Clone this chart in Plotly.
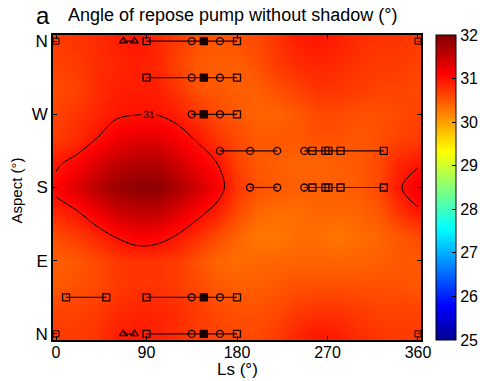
import plotly.graph_objects as go

# ---------------- data ----------------
ls_grid = [0, 20, 40, 60, 80, 100, 120, 140, 160, 180, 200, 220, 240, 260, 280, 300, 320, 340, 360]
aspect_grid = [0, 30, 60, 90, 120, 150, 180, 210, 240, 270, 300, 330, 360]

angle_z = [
    [30.70, 30.70, 30.75, 30.90, 30.95, 30.90, 30.80, 30.70, 30.65, 30.60, 30.60, 30.70, 30.85, 30.95, 30.90, 30.80, 30.75, 30.70, 30.70],
    [30.65, 30.65, 30.70, 30.80, 30.85, 30.85, 30.80, 30.70, 30.60, 30.55, 30.55, 30.60, 30.70, 30.75, 30.75, 30.70, 30.65, 30.65, 30.65],
    [30.50, 30.55, 30.60, 30.70, 30.75, 30.75, 30.70, 30.60, 30.50, 30.45, 30.45, 30.50, 30.55, 30.55, 30.55, 30.55, 30.55, 30.55, 30.50],
    [30.45, 30.50, 30.60, 30.72, 30.75, 30.75, 30.70, 30.55, 30.40, 30.35, 30.40, 30.40, 30.42, 30.42, 30.42, 30.42, 30.45, 30.50, 30.50],
    [30.60, 30.70, 30.85, 31.02, 31.15, 31.12, 30.98, 30.80, 30.60, 30.42, 30.28, 30.28, 30.35, 30.35, 30.28, 30.35, 30.40, 30.50, 30.60],
    [30.85, 30.97, 31.20, 31.45, 31.55, 31.55, 31.35, 31.10, 30.90, 30.60, 30.40, 30.35, 30.35, 30.40, 30.40, 30.42, 30.50, 30.75, 30.95],
    [31.10, 31.35, 31.60, 31.80, 31.90, 31.90, 31.70, 31.45, 31.15, 30.75, 30.55, 30.48, 30.45, 30.45, 30.45, 30.48, 30.60, 30.95, 31.20],
    [30.95, 31.10, 31.35, 31.55, 31.65, 31.65, 31.45, 31.20, 31.00, 30.65, 30.50, 30.45, 30.42, 30.42, 30.45, 30.50, 30.60, 30.85, 30.95],
    [30.70, 30.80, 31.00, 31.20, 31.30, 31.30, 31.15, 30.97, 30.75, 30.60, 30.50, 30.50, 30.50, 30.55, 30.55, 30.50, 30.55, 30.65, 30.70],
    [30.65, 30.75, 30.85, 30.95, 30.99, 30.99, 30.90, 30.75, 30.60, 30.50, 30.42, 30.42, 30.50, 30.60, 30.60, 30.55, 30.55, 30.60, 30.65],
    [30.60, 30.65, 30.80, 30.90, 30.92, 30.90, 30.75, 30.55, 30.50, 30.45, 30.45, 30.55, 30.65, 30.75, 30.75, 30.70, 30.65, 30.65, 30.60],
    [30.65, 30.70, 30.80, 30.85, 30.90, 30.85, 30.65, 30.50, 30.45, 30.45, 30.55, 30.70, 30.80, 30.85, 30.80, 30.75, 30.70, 30.70, 30.65],
    [30.70, 30.75, 30.80, 30.90, 30.95, 30.85, 30.70, 30.55, 30.50, 30.55, 30.60, 30.75, 30.90, 30.95, 30.90, 30.80, 30.75, 30.75, 30.70],
]

x_ticks = [0, 90, 180, 270, 360]
y_ticks = [0, 90, 180, 270, 360]
y_labels = ["N", "E", "S", "W", "N"]
cbar_ticks = [25, 26, 27, 28, 29, 30, 31, 32]

# observation tracks: (aspect, Ls list, symbol list)
tri_ls = [67, 78]
tri_aspects = [0, 360]

track_a_ls = [90, 135, 147, 163, 180]
track_a_sym = ["square-open", "circle-open", "square", "circle-open", "square-open"]
track_a_aspects = [0, 45, 315, 360]

track_w_ls = [135, 147, 163, 180]
track_w_sym = ["circle-open", "square", "circle-open", "square-open"]
track_w_aspect = 270

track_sw_ls = [163, 193, 220]
track_s_ls = [193, 220]
track_b_ls = [247, 255, 268, 271, 283, 326]
track_b_sym = ["circle-open", "square-open", "square-open", "square-open", "square-open", "square-open"]
track_b_aspects = [180, 225]

track_ne_ls = [10, 50]
track_ne_aspect = 45

corner_ls = [0, 360, 0, 360]
corner_aspect = [0, 0, 360, 360]

jet = [[0.0, "rgb(0,0,143)"], [0.111, "rgb(0,0,255)"], [0.365, "rgb(0,255,255)"],
       [0.619, "rgb(255,255,0)"], [0.873, "rgb(255,0,0)"], [1.0, "rgb(128,0,0)"]]

FONT = "Liberation Sans, Arial, Helvetica, sans-serif"
LINE = "rgb(25,0,0)"

fig = go.Figure()
fig.add_trace(go.Heatmap(
    x=ls_grid, y=aspect_grid, z=angle_z, zmin=25, zmax=32, colorscale=jet,
    zsmooth="best",
    colorbar=dict(
        x=1.0408, xanchor="left", xpad=0, y=0.5, yanchor="middle", ypad=0,
        len=1, lenmode="fraction", thickness=20, thicknessmode="pixels",
        outlinecolor="black", outlinewidth=1,
        tickvals=cbar_ticks, ticks="inside", ticklen=4, tickcolor="black",
        tickfont=dict(size=16, color="black", family=FONT),
    ),
))
fig.add_trace(go.Contour(
    x=ls_grid, y=aspect_grid, z=angle_z, showscale=False,
    contours=dict(start=31, end=31, size=1, coloring="none", showlabels=True,
                  labelfont=dict(size=10, color="black", family=FONT)),
    line=dict(color="black", width=1, smoothing=1.0),
    hoverinfo="skip",
))

mk = dict(color=LINE, size=7, line=dict(color=LINE, width=1.3))

def add_track(ls, asp, sym):
    fig.add_trace(go.Scatter(
        x=ls, y=[asp] * len(ls), mode="lines+markers",
        line=dict(color=LINE, width=1.2),
        marker=dict(symbol=sym, **mk), showlegend=False, cliponaxis=False,
    ))

for a in tri_aspects:
    add_track(tri_ls, a, "triangle-up-open")
for a in track_a_aspects:
    add_track(track_a_ls, a, track_a_sym)
add_track(track_w_ls, track_w_aspect, track_w_sym)
add_track(track_sw_ls, 225, "circle-open")
add_track(track_s_ls, 180, "circle-open")
for a in track_b_aspects:
    add_track(track_b_ls, a, track_b_sym)
add_track(track_ne_ls, track_ne_aspect, "square-open")

fig.add_trace(go.Scatter(
    x=corner_ls, y=corner_aspect, mode="markers",
    marker=dict(symbol="square-open", size=6, color=LINE), showlegend=False,
    cliponaxis=True,
))

fig.update_layout(
    width=480, height=381,
    margin=dict(l=53, r=59, t=35, b=41, autoexpand=False),
    paper_bgcolor="white", plot_bgcolor="white",
    font=dict(family=FONT, color="black"),
    showlegend=False,
    annotations=[
        dict(text="a", xref="paper", yref="paper", x=-0.050, y=1.015,
             xanchor="left", yanchor="bottom", showarrow=False, borderpad=0,
             font=dict(size=24, color="black", family=FONT)),
        dict(text="Angle of repose pump without shadow (°)", xref="paper", yref="paper",
             x=0.036, y=1.066, xanchor="left", yanchor="middle", showarrow=False,
             font=dict(size=18, color="black", family=FONT)),
        dict(text="Ls (°)", xref="paper", yref="paper", x=0.5, y=-0.096,
             xanchor="center", yanchor="middle", showarrow=False, borderpad=0,
             font=dict(size=17, color="black", family=FONT)),
        dict(text="Aspect (°)", xref="paper", yref="paper", x=-0.098, y=0.49,
             xanchor="center", yanchor="middle", showarrow=False, textangle=-90,
             font=dict(size=15, color="black", family=FONT)),
    ],
)
fig.update_xaxes(
    range=[-3, 363], tickvals=x_ticks, ticks="inside", ticklen=4, tickcolor="black",
    showline=True, linecolor="black", linewidth=1.5, mirror="allticks",
    showgrid=False, zeroline=False, tickfont=dict(size=16, color="black"),
    ticklabelstandoff=-3, automargin=False,
)
fig.update_yaxes(
    range=[-7.5, 367.5], tickvals=y_ticks, ticktext=y_labels, ticks="inside", ticklen=4,
    tickcolor="black", showline=True, linecolor="black", linewidth=1.5, mirror="allticks",
    showgrid=False, zeroline=False, tickfont=dict(size=17, color="black"),
    automargin=False,
)

fig.write_html("out.html", config={"displayModeBar": False},
               post_script="document.body.style.margin='0';document.body.style.padding='0';")
